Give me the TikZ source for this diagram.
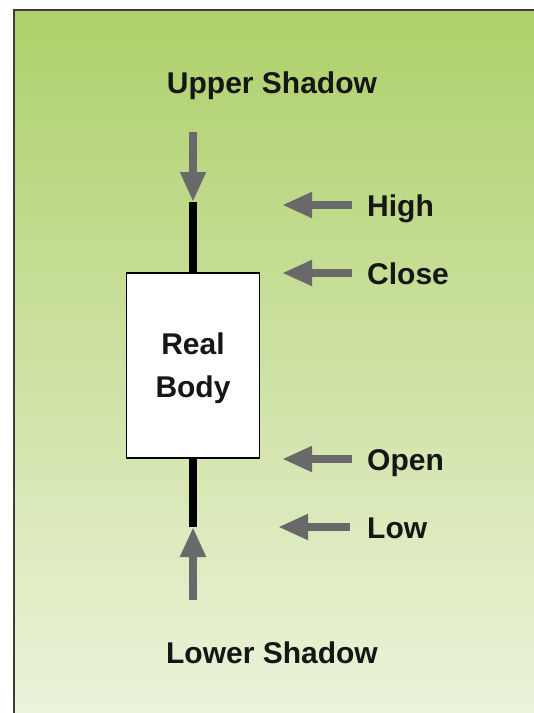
\documentclass[tikz,border=0pt]{standalone}
\usepackage{fontspec}
\setmainfont{Liberation Sans}
\usetikzlibrary{arrows.meta}
\definecolor{gtop}{RGB}{174,208,106}
\definecolor{gbot}{RGB}{236,243,218}
\definecolor{arrgray}{RGB}{105,105,105}
\definecolor{framegray}{RGB}{60,60,60}
\definecolor{txt}{RGB}{22,22,22}
\begin{document}
\begin{tikzpicture}[x=1pt,y=-1pt,
  lbl/.style={inner sep=0pt, font=\fontsize{30}{36}\selectfont\bfseries, text=txt},
  garrow/.style={draw=arrgray, line width=8pt, -{Triangle[width=24pt,length=30pt]}, arrgray},
  wick/.style={draw=black, line width=8pt},
  bodybox/.style={draw=black, line width=1.5pt, fill=white, minimum width=133pt, minimum height=185pt, inner sep=0pt}]
\useasboundingbox (0,0) rectangle (534,713);
\shade[top color=gtop, bottom color=gbot] (14,10) rectangle (534,713);
\draw[framegray, line width=2pt] (14,713) -- (14,10) -- (534,10);
% coordinates
\coordinate (uptail) at (193,132);
\coordinate (uptip) at (193,202);
\coordinate (lowtip) at (193,527);
\coordinate (lowtail) at (193,600);
% body and wicks
\node[bodybox] (body) at (193,365.5) {};
\draw[wick] (uptip) -- (body.north);
\draw[wick] (body.south) -- (lowtip);
\node[lbl, anchor=base] (real) at (193,354) {Real};
\node[lbl, anchor=base] (bodyword) at (193,397) {Body};
% shadows
\node[lbl, anchor=base] (upper) at (272,93) {Upper Shadow};
\node[lbl, anchor=base] (lower) at (272,663) {Lower Shadow};
\draw[garrow] (uptail) -- (uptip);
\draw[garrow] (lowtail) -- (lowtip);
% right labels
\node[lbl, anchor=base west] (high) at (367,216) {High};
\node[lbl, anchor=base west] (close) at (367,284) {Close};
\node[lbl, anchor=base west] (open) at (367,470) {Open};
\node[lbl, anchor=base west] (low) at (367,538) {Low};
\coordinate (hightail) at (352,205);
\coordinate (hightip) at (282,205);
\coordinate (closetail) at (352,273);
\coordinate (closetip) at (282,273);
\coordinate (opentail) at (352,459);
\coordinate (opentip) at (282,459);
\coordinate (lowarrtail) at (350,527);
\coordinate (lowarrtip) at (278,527);
\draw[garrow] (hightail) -- (hightip);
\draw[garrow] (closetail) -- (closetip);
\draw[garrow] (opentail) -- (opentip);
\draw[garrow] (lowarrtail) -- (lowarrtip);
\end{tikzpicture}
\end{document}
